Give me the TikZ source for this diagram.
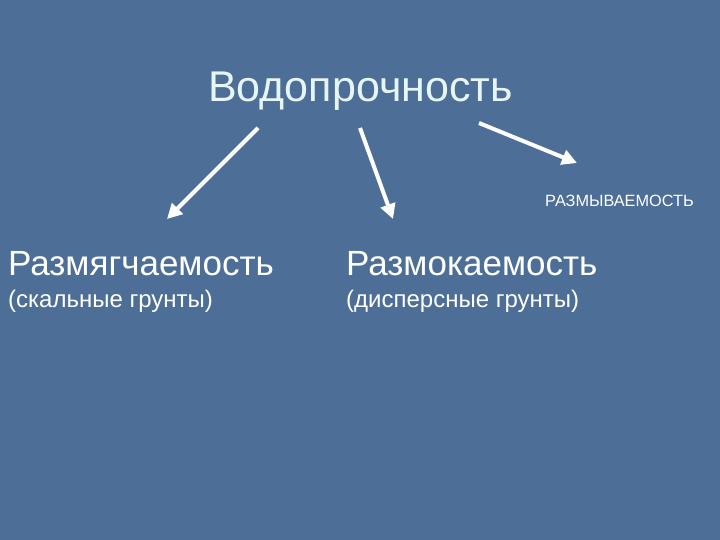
\documentclass[tikz,border=0pt]{standalone}
\usepackage{fontspec}
\setmainfont{Liberation Sans}
\usetikzlibrary{arrows.meta}
\definecolor{slidebg}{HTML}{4D6E97}
\definecolor{titlefg}{HTML}{E6F6F6}
\tikzset{
	lbl/.style={anchor=base west, inner sep=0pt, text=white},
	pointer/.style={draw=white, line width=4pt, -{Triangle[length=15pt,width=15pt]}}
}

\begin{document}
\begin{tikzpicture}[x=1pt,y=-1pt]
	\fill[slidebg] (0,0) rectangle (720,540);
	\useasboundingbox (0,0) rectangle (720,540);
	% titel
	\node[lbl, text=titlefg, font=\fontsize{43}{43}\selectfont] (title) at (208,102) {Водопрочность};
	% labels
	\node[lbl, font=\fontsize{35}{35}\selectfont] (soft) at (8,275) {Размягчаемость};
	\node[lbl, font=\fontsize{24}{24}\selectfont] (softsub) at (8,307) {(скальные грунты)};
	\node[lbl, font=\fontsize{35}{35}\selectfont] (wet) at (346,275) {Размокаемость};
	\node[lbl, font=\fontsize{24}{24}\selectfont] (wetsub) at (346,307) {(дисперсные грунты)};
	\node[lbl, font=\fontsize{16.3}{16.3}\selectfont] (wash) at (545,207) {РАЗМЫВАЕМОСТЬ};
	% arrows
	\coordinate (a1s) at (258,128); \coordinate (a1e) at (167,219);
	\coordinate (a2s) at (360,128); \coordinate (a2e) at (393,219);
	\coordinate (a3s) at (479,123); \coordinate (a3e) at (577,163);
	\draw[pointer] (a1s) -- (a1e);
	\draw[pointer] (a2s) -- (a2e);
	\draw[pointer] (a3s) -- (a3e);
\end{tikzpicture}
\end{document}
